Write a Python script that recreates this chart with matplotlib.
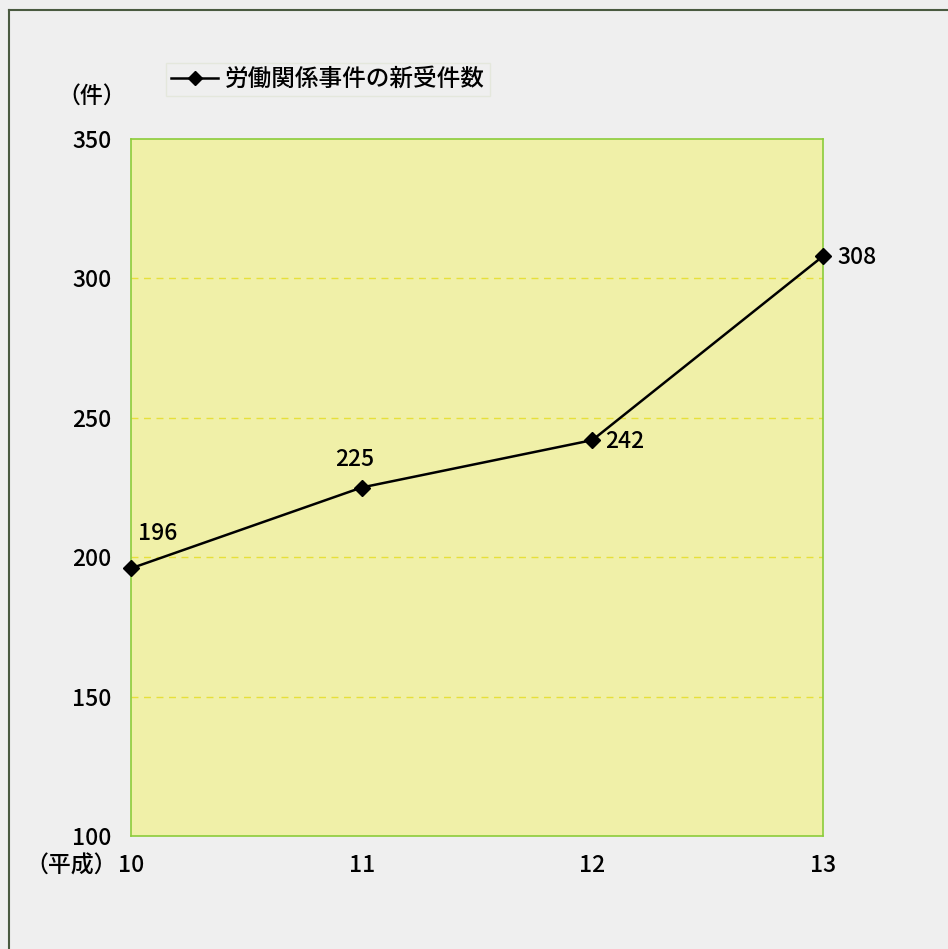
import matplotlib.pyplot as plt
from matplotlib.lines import Line2D

plt.rcParams["font.family"] = ["Noto Sans CJK JP", "DejaVu Sans"]
plt.rcParams["font.weight"] = "medium"

years = ["10", "11", "12", "13"]
cases = [196, 225, 242, 308]
series_label = "労働関係事件の新受件数"
y_ticks = [100, 150, 200, 250, 300, 350]

fig = plt.figure(figsize=(9.48, 9.49), dpi=100)
fig.patch.set_facecolor("#efefef")

# outer frame (only top and left edges are visible in the original)
fig.add_artist(Line2D([0.0095, 0.0095], [0.0, 0.9895], transform=fig.transFigure,
                      color="#4a5a40", lw=1.5))
fig.add_artist(Line2D([0.0095, 1.0], [0.9895, 0.9895], transform=fig.transFigure,
                      color="#4a5a40", lw=1.5))

ax = fig.add_axes([0.1382, 0.1191, 0.730, 0.7344])
ax.set_facecolor("#f0f0a8")
for spine in ax.spines.values():
    spine.set_color("#8ccc3a")
    spine.set_linewidth(1.2)

x = list(range(len(years)))
line, = ax.plot(x, cases, color="black", lw=1.8, marker="D", markersize=8,
                label=series_label, zorder=3, clip_on=False)

ax.set_xlim(0, len(years) - 1)
ax.set_ylim(100, 350)
ax.set_yticks(y_ticks)
ax.set_xticks(x)
ax.set_xticklabels(years)
ax.tick_params(axis="both", length=0, labelsize=16.5)
ax.tick_params(axis="x", pad=13)
ax.tick_params(axis="y", pad=14)

for yv in y_ticks[1:-1]:
    ax.axhline(yv, color="#e6e03a", lw=1.0, ls=(0, (5, 4)), zorder=1)

# data labels
offsets = [(19, 25, "center"), (-5, 20, "center"), (9, -1, "left"), (10, -1, "left")]
for xi, val, (dx, dy, ha) in zip(x, cases, offsets):
    ax.annotate(str(val), (xi, val), xytext=(dx, dy), textcoords="offset points",
                ha=ha, va="center", fontsize=16.5)

fig.text(0.097, 0.899, "（件）", fontsize=16.5, ha="center", va="center")
fig.text(0.075, 0.087, "（平成）", fontsize=16.5, ha="center", va="center")

leg = fig.legend(handles=[line], loc="center left", bbox_to_anchor=(0.163, 0.916),
                 frameon=True, fontsize=17, handlelength=2.0, handletextpad=0.3,
                 borderpad=0.2, fancybox=False, markerscale=0.85)
leg.get_frame().set_facecolor("#efefef")
leg.get_frame().set_edgecolor("#e2e6d8")

fig.savefig("out.png", dpi=100, facecolor=fig.get_facecolor())
